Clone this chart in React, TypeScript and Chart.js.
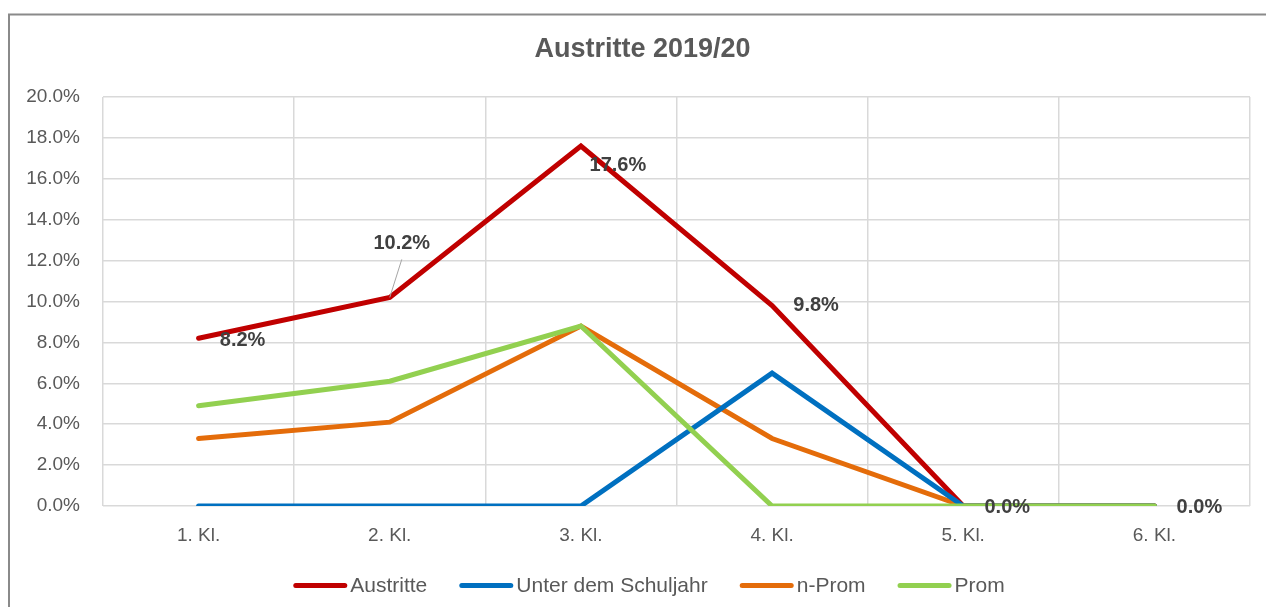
import React, { useEffect, useRef } from 'react';
import { Chart, registerables } from 'chart.js';

Chart.register(...registerables);

// ---- data ----
const categories = ['1. Kl.', '2. Kl.', '3. Kl.', '4. Kl.', '5. Kl.', '6. Kl.'];
const austritte = [8.2, 10.2, 17.6, 9.8, 0, 0];
const unterDemSchuljahr = [0, 0, 0, 6.5, 0, 0];
const nProm = [3.3, 4.1, 8.8, 3.3, 0, 0];
const prom = [4.9, 6.1, 8.8, 0, 0, 0];
const seriesNames = ['Austritte', 'Unter dem Schuljahr', 'n-Prom', 'Prom'];
const chartTitle = 'Austritte 2019/20';
const yMin = 0;
const yMax = 20;
const yStep = 2;

// ---- styles ----
const FONT = '"Liberation Sans", Arial, sans-serif';
const seriesColors = ['#C00000', '#0070C0', '#E46C0A', '#92D050'];
const drawOrder = [3, 1, 2, 0];
// label offsets (px) relative to each Austritte point
const labelOffsets = [
  { dx: 44, dy: 2, leader: false },
  { dx: 12, dy: -54, leader: true },
  { dx: 37, dy: 19, leader: false },
  { dx: 44, dy: 0, leader: false },
  { dx: 44, dy: 1, leader: false },
  { dx: 45, dy: 1, leader: false },
];

const decorPlugin = {
  id: 'decor',
  beforeDraw(chart: any) {
    const { ctx, width, height } = chart;
    ctx.save();
    ctx.fillStyle = '#ffffff';
    ctx.fillRect(0, 0, width, height);
    ctx.strokeStyle = '#8a8a8a';
    ctx.lineWidth = 2;
    ctx.beginPath();
    ctx.moveTo(1, height + 10);
    ctx.lineTo(1, 6.5);
    ctx.lineTo(width + 10, 6.5);
    ctx.stroke();
    ctx.restore();
  },
  afterDatasetsDraw(chart: any) {
    const { ctx } = chart;
    const meta = chart.getDatasetMeta(0);
    ctx.save();
    ctx.font = `bold 20px ${FONT}`;
    ctx.fillStyle = '#404040';
    ctx.textAlign = 'center';
    ctx.textBaseline = 'middle';
    meta.data.forEach((pt: any, i: number) => {
      const off = labelOffsets[i];
      const lx = pt.x + off.dx;
      const ly = pt.y + off.dy;
      if (off.leader) {
        ctx.strokeStyle = '#a6a6a6';
        ctx.lineWidth = 1;
        ctx.beginPath();
        ctx.moveTo(pt.x, pt.y);
        ctx.lineTo(lx, ly + 16);
        ctx.stroke();
      }
      ctx.fillText(austritte[i].toFixed(1) + '%', lx, ly);
    });
    ctx.restore();
  },
  afterDraw(chart: any) {
    const { ctx } = chart;
    ctx.save();
    // title
    ctx.font = `bold 27px ${FONT}`;
    ctx.fillStyle = '#595959';
    ctx.textAlign = 'center';
    ctx.textBaseline = 'middle';
    ctx.fillText(chartTitle, 634.5, 41.5);
    // legend
    ctx.font = `21px ${FONT}`;
    const lineLen = 54;
    const gapText = 3;
    const gapItem = 32;
    const widths = seriesNames.map((n) => lineLen + gapText + ctx.measureText(n).width);
    const total = widths.reduce((a, b) => a + b, 0) + gapItem * (seriesNames.length - 1);
    let x = 641 - total / 2;
    const y = 577.5;
    ctx.textAlign = 'left';
    seriesNames.forEach((n, i) => {
      ctx.strokeStyle = seriesColors[i];
      ctx.lineWidth = 5;
      ctx.lineCap = 'round';
      ctx.beginPath();
      ctx.moveTo(x + 2.5, y);
      ctx.lineTo(x + lineLen - 2.5, y);
      ctx.stroke();
      ctx.fillStyle = '#595959';
      ctx.fillText(n, x + lineLen + gapText, y + 1);
      x += widths[i] + gapItem;
    });
    ctx.restore();
  },
};

export default function App() {
  const canvasRef = useRef<HTMLCanvasElement | null>(null);

  useEffect(() => {
    if (!canvasRef.current) return;
    const seriesData = [austritte, unterDemSchuljahr, nProm, prom];
    const chart = new Chart(canvasRef.current, {
      type: 'line',
      data: {
        labels: categories,
        datasets: seriesNames.map((name, i) => ({
          label: name,
          data: seriesData[i],
          borderColor: seriesColors[i],
          backgroundColor: seriesColors[i],
          borderWidth: 5,
          pointRadius: 0,
          pointHoverRadius: 0,
          tension: 0,
          fill: false,
          borderCapStyle: 'round',
          borderJoinStyle: 'miter',
          order: drawOrder[i],
        })),
      },
      options: {
        responsive: false,
        animation: false,
        events: [],
        layout: { padding: { top: 89, right: 16, bottom: 61, left: 0 } },
        plugins: {
          legend: { display: false },
          title: { display: false },
          tooltip: { enabled: false },
        },
        scales: {
          x: {
            offset: true,
            grid: { offset: true, color: '#d9d9d9', lineWidth: 1.5, drawTicks: false },
            border: { display: false },
            ticks: { color: '#595959', font: { family: FONT, size: 19 }, padding: 18 },
            afterFit: (s: any) => {
              s.height = 40;
            },
          },
          y: {
            min: yMin,
            max: yMax,
            grid: { color: '#d9d9d9', lineWidth: 1.5, drawTicks: false },
            border: { display: false },
            ticks: {
              stepSize: yStep,
              color: '#595959',
              font: { family: FONT, size: 19 },
              padding: 23,
              callback: (v: any) => Number(v).toFixed(1) + '%',
            },
            afterFit: (s: any) => {
              s.width = 95;
            },
          },
        },
      } as any,
      plugins: [decorPlugin],
    });
    return () => chart.destroy();
  }, []);

  return (
    <canvas
      ref={canvasRef}
      width={1258}
      height={599}
      style={{ display: 'block', position: 'fixed', left: 8, top: 8, width: 1258, height: 599 }}
    />
  );
}
